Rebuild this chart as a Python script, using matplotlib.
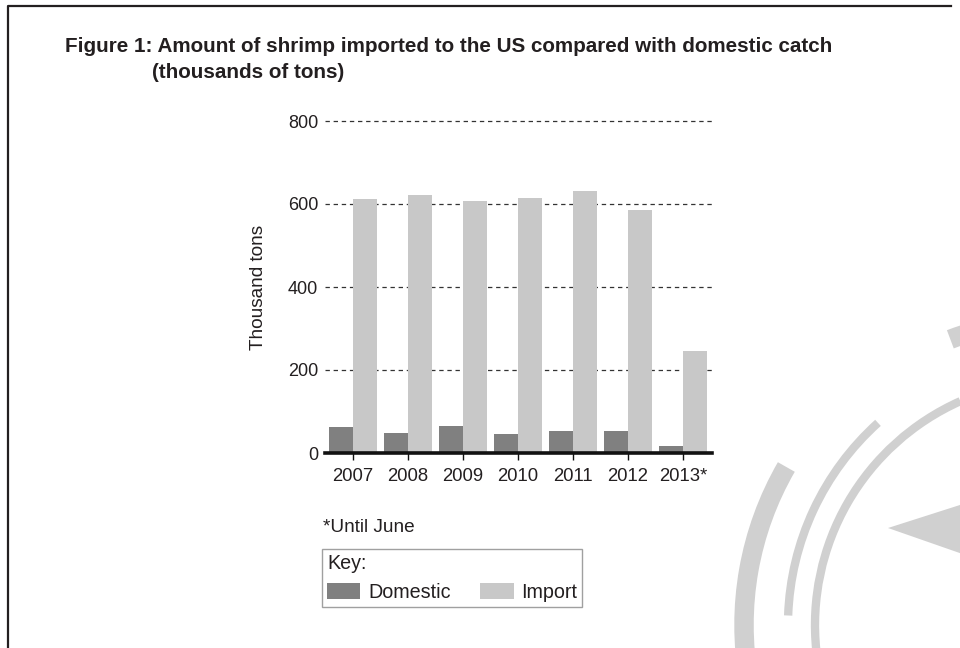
import numpy as np
import matplotlib
matplotlib.use('Agg')
import matplotlib.pyplot as plt
from matplotlib.patches import Arc, Polygon, Patch
from matplotlib.lines import Line2D

plt.rcParams['font.family'] = ['Liberation Sans', 'DejaVu Sans']

# data (thousand tons)
years = ['2007', '2008', '2009', '2010', '2011', '2012', '2013*']
domestic = [62, 47, 64, 45, 52, 52, 16]
imports = [612, 621, 607, 614, 631, 585, 245]
y_ticks = [0, 200, 400, 600, 800]

c_dom = '#808080'
c_imp = '#c8c8c8'
c_txt = '#231f20'

fig = plt.figure(figsize=(9.6, 6.48), dpi=100)

# background layer in pixel units: frame lines and faint watermark
bg = fig.add_axes([0, 0, 1, 1], zorder=0)
bg.set_xlim(0, 960)
bg.set_ylim(0, 648)
bg.axis('off')
bg.add_line(Line2D([7.5, 7.5, 951], [0, 642.5, 642.5], color=c_txt, lw=1.6))
wm = '#d0d0d0'
cx, cy = 1060, 23
bg.add_patch(Arc((cx, cy), 2 * 245, 2 * 245, theta1=114, theta2=186, color=wm, lw=6))
bg.add_patch(Arc((cx, cy), 2 * 272, 2 * 272, theta1=132, theta2=178, color=wm, lw=6))
bg.add_patch(Arc((cx, cy), 2 * 316, 2 * 316, theta1=150, theta2=190, color=wm, lw=14))
bg.add_patch(Arc((cx, cy), 2 * 306, 2 * 306, theta1=101, theta2=111, color=wm, lw=14))
bg.add_patch(Polygon([[888, 120], [1060, 175], [1060, 60]], closed=True, color=wm, lw=0))

# chart
ax = fig.add_axes([325 / 960, 1 - 453 / 648, 387 / 960, 332 / 648], zorder=1)
ax.patch.set_alpha(0)
x = np.arange(len(years))
w = 0.436
ax.bar(x - w / 2, domestic, width=w, color=c_dom, zorder=2)
ax.bar(x + w / 2, imports, width=w, color=c_imp, zorder=2)

ax.set_xlim(-0.51, len(years) - 1 + 0.53)
ax.set_ylim(0, 800)
ax.set_yticks(y_ticks)
ax.set_xticks(x)
ax.set_xticklabels(years)

for v in y_ticks[1:]:
    ax.axhline(v, color='#333333', lw=0.9, ls=(0, (3.5, 3)), zorder=1, clip_on=False)
ax.axhline(0, color='#111111', lw=2.6, zorder=3, clip_on=False)

for s in ax.spines.values():
    s.set_visible(False)
ax.tick_params(axis='y', length=0, pad=5, labelsize=13, labelcolor=c_txt)
ax.tick_params(axis='x', length=5, width=1, color='#111111', pad=6, labelsize=13.3,
               labelcolor=c_txt)
ax.set_ylabel('Thousand tons', fontsize=13.7, color=c_txt)
ax.yaxis.set_label_coords(-0.15, 0.5)

fig.text(65 / 960, 1 - 47 / 648, 'Figure 1: Amount of shrimp imported to the US compared with domestic catch',
         fontsize=14.9, fontweight='bold', color=c_txt, va='center')
fig.text(152 / 960, 1 - 72 / 648, '(thousands of tons)',
         fontsize=14.9, fontweight='bold', color=c_txt, va='center')
fig.text(323 / 960, 1 - 527 / 648, '*Until June', fontsize=13.7, color=c_txt, va='center')

handles = [Patch(facecolor=c_dom, label='Domestic'), Patch(facecolor=c_imp, label='Import')]
leg = fig.legend(handles=handles, title='Key:', ncol=2, loc='upper left',
                 bbox_to_anchor=(322 / 960, 1 - 549 / 648), fontsize=14.2, title_fontsize=14.2,
                 frameon=True, fancybox=False, edgecolor='#a0a0a0', framealpha=1,
                 handlelength=1.7, handleheight=0.9, handletextpad=0.38, columnspacing=1.5,
                 borderpad=0.25, borderaxespad=0, alignment='left')
leg.get_frame().set_linewidth(1)
for t in leg.get_texts():
    t.set_color(c_txt)
leg.get_title().set_color(c_txt)

fig.savefig('out.png', dpi=100, facecolor='white')
